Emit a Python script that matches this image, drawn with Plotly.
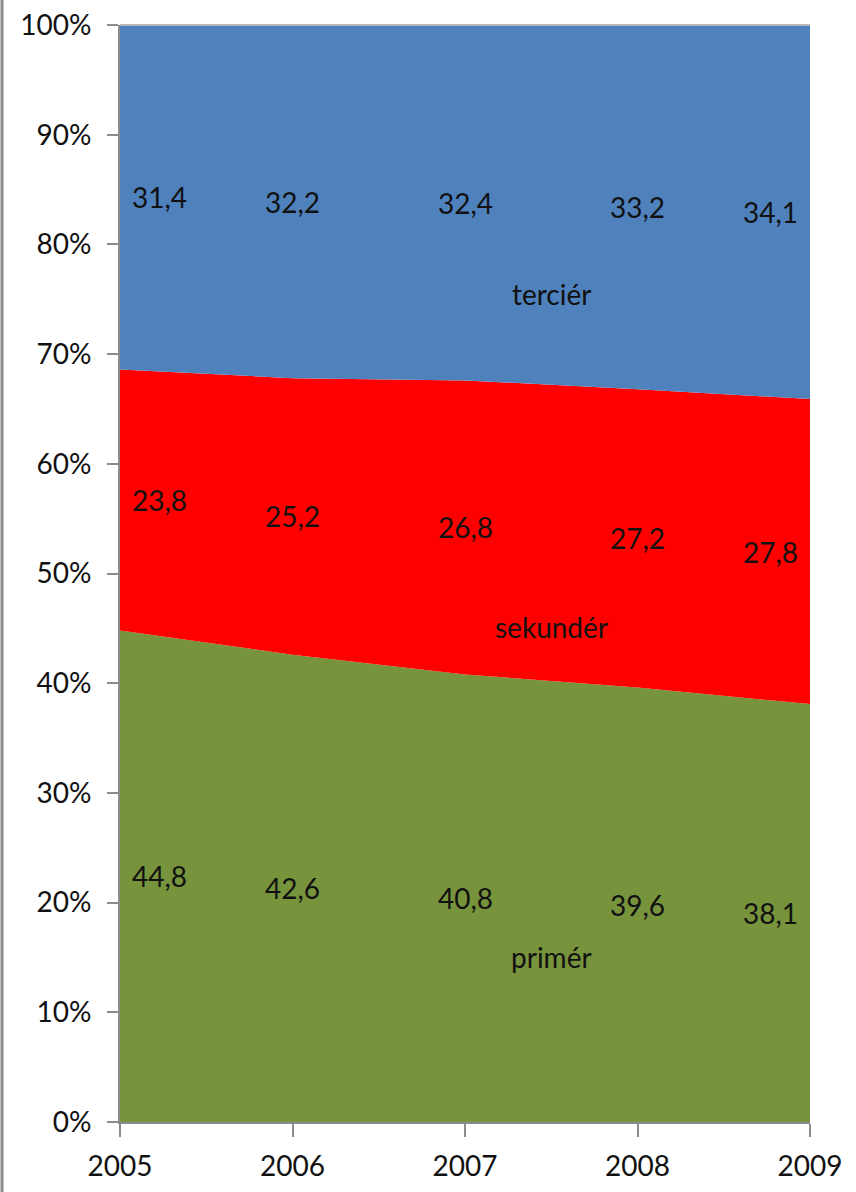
import plotly.graph_objects as go

years = [2005, 2006, 2007, 2008, 2009]
series_names = ["primér", "sekundér", "terciér"]
primer = [44.8, 42.6, 40.8, 39.6, 38.1]
sekunder = [23.8, 25.2, 26.8, 27.2, 27.8]
tercier = [31.4, 32.2, 32.4, 33.2, 34.1]
y_tick_vals = [0, 10, 20, 30, 40, 50, 60, 70, 80, 90, 100]

colors = ["#77933C", "#FF0000", "#4F81BD"]
FONT = "Lato"
TXT = "#111111"

fig = go.Figure()
all_series = [primer, sekunder, tercier]
for name, vals, col in zip(series_names, all_series, colors):
    fig.add_trace(go.Scatter(
        x=years, y=vals, name=name, stackgroup="one", mode="none",
        fillcolor=col, line=dict(width=0), hoverinfo="x+y+name"))

annotations = []
base = [0.0] * len(years)
for vals in all_series:
    for i, (yr, v) in enumerate(zip(years, vals)):
        mid = base[i] + v / 2
        if i == 0:
            xa, xs = "left", 10
        elif i == len(years) - 1:
            xa, xs = "right", -10
        else:
            xa, xs = "center", 0
        annotations.append(dict(
            x=yr, y=mid, text=f"{v:.1f}".replace(".", ","), showarrow=False,
            xanchor=xa, xshift=xs, yanchor="middle",
            font=dict(family=FONT, size=28, color=TXT)))
    base = [b + v for b, v in zip(base, vals)]

name_pos = [(2007.5, 15.0), (2007.5, 45.1), (2007.5, 75.5)]
for name, (nx, ny) in zip(series_names, name_pos):
    annotations.append(dict(
        x=nx, y=ny, text=name, showarrow=False, xanchor="center", yanchor="middle",
        font=dict(family=FONT, size=28, color=TXT)))

fig.update_layout(
    width=856, height=1192,
    margin=dict(l=120, r=46, t=25, b=70, autoexpand=False),
    paper_bgcolor="white", plot_bgcolor="white",
    showlegend=False,
    annotations=annotations,
    font=dict(family=FONT, size=28, color=TXT),
    xaxis=dict(range=[2005, 2009], tickvals=years, ticktext=[str(y) for y in years],
               automargin=False, ticklabelstandoff=5,
               showgrid=False, zeroline=False, showline=True, linecolor="#8c8c8c",
               linewidth=2, ticks="outside", ticklen=13, tickcolor="#8c8c8c",
               tickwidth=2, tickfont=dict(family=FONT, size=28, color=TXT)),
    yaxis=dict(range=[0, 100], tickvals=y_tick_vals,
               ticktext=[f"{v}%" for v in y_tick_vals], automargin=False,
               ticklabelstandoff=10,
               showgrid=False, zeroline=False, showline=True, linecolor="#8c8c8c",
               linewidth=2, ticks="outside", ticklen=11, tickcolor="#8c8c8c",
               tickwidth=2, tickfont=dict(family=FONT, size=28, color=TXT)),
    shapes=[
        dict(type="line", xref="paper", yref="paper", x0=-0.171, x1=-0.171,
             y0=-0.07, y1=1.03, line=dict(color="#8c8c8c", width=3)),
        dict(type="line", xref="paper", yref="paper", x0=0, x1=1, y0=1, y1=1,
             line=dict(color="#b8b8b8", width=2)),
    ],
)

fig.write_html("out.html", config={"displayModeBar": False},
               post_script="document.body.style.margin='0';document.body.style.overflow='hidden';")
